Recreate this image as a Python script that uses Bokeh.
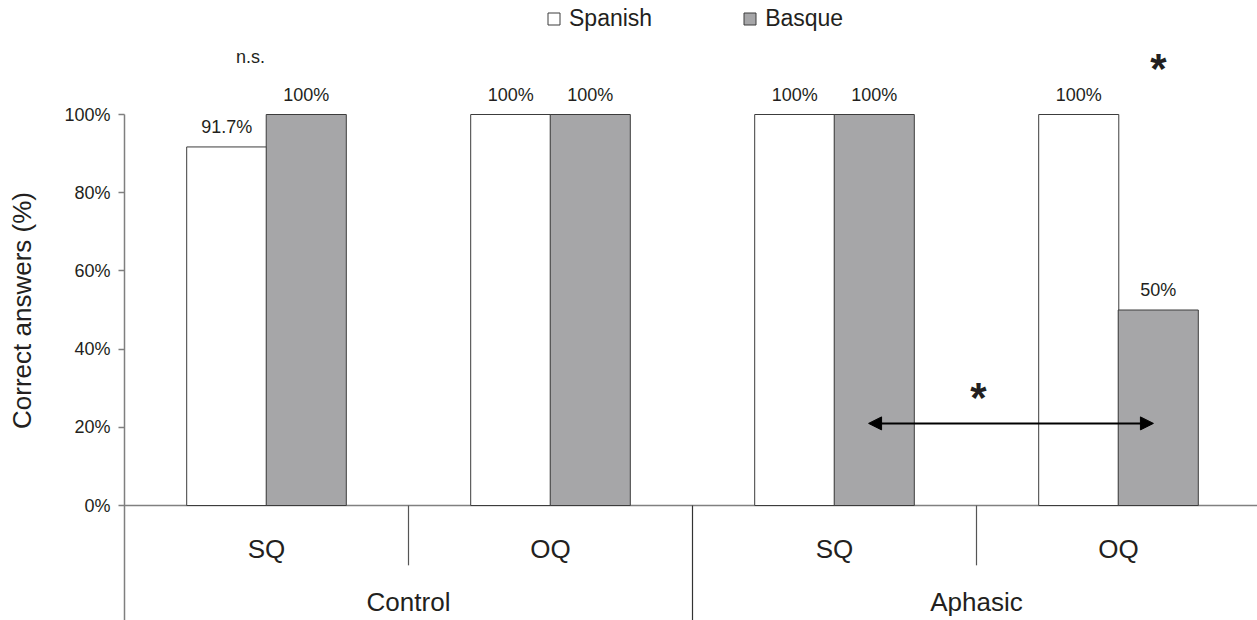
from bokeh.plotting import figure
from bokeh.models import (FixedTicker, PrintfTickFormatter, Legend, LegendItem,
                          Arrow, NormalHead)
from bokeh.core.properties import value
from bokeh.embed import file_html
from bokeh.resources import INLINE

# ---------------- data ----------------
groups = ["Control", "Aphasic"]
questions = ["SQ", "OQ", "SQ", "OQ"]
spanish = [91.7, 100, 100, 100]
basque = [100, 100, 100, 50]
series_names = ["Spanish", "Basque"]
y_ticks = [0, 20, 40, 60, 80, 100]
ns_text = ["n.s."]
star_text = ["*", "*"]

# ---------------- layout ----------------
W, H = 1257, 620
PX = 3.91            # pixels per percent
Y0 = 505             # figure-pixel row of 0 %
LEFT = 124
GW = 284             # pixels per question group
y_top = Y0 / PX
y_bot = -(H - Y0) / PX
x_end = (W - LEFT) / GW

FONT = "Liberation Sans"
TXT = "#231f20"

p = figure(width=W, height=H, x_range=(0, x_end), y_range=(y_bot, y_top),
           output_backend="svg", toolbar_location=None,
           min_border_left=LEFT, min_border_right=0, min_border_top=0,
           min_border_bottom=0, x_axis_location=None)
p.outline_line_color = None
p.xgrid.visible = False
p.ygrid.visible = False

ax = p.yaxis[0]
ax.ticker = FixedTicker(ticks=y_ticks)
ax.formatter = PrintfTickFormatter(format="%d%%")
ax.bounds = (y_bot, 100)
ax.axis_line_color = "#7f7f7f"
ax.axis_line_width = 1.5
ax.major_tick_line_color = "#7f7f7f"
ax.major_tick_line_width = 1.5
ax.major_tick_out = 6
ax.major_tick_in = 0
ax.minor_tick_line_color = None
ax.major_label_text_font = FONT
ax.major_label_text_font_size = "18px"
ax.major_label_text_color = TXT
ax.major_label_standoff = 8
ax.axis_label = "Correct answers (%)"
ax.axis_label_text_font = FONT
ax.axis_label_text_font_size = "26px"
ax.axis_label_text_font_style = "normal"
ax.axis_label_text_color = TXT
ax.axis_label_standoff = 24

n = len(questions)
centers = [i + 0.5 for i in range(n)]
x_sp = [i + 0.36 for i in range(n)]
x_bq = [i + 0.64 for i in range(n)]
bw = 0.282

# baseline at 0 %
p.segment(x0=[0], y0=[0], x1=[x_end], y1=[0], line_color="#808080", line_width=1.5)

# separators below the axis
short_sep = [i for i in range(1, n) if i % 2 == 1]
long_sep = [i for i in range(1, n) if i % 2 == 0]
p.segment(x0=short_sep, y0=[0] * len(short_sep), x1=short_sep,
          y1=[-15.3] * len(short_sep), line_color="#555555", line_width=1.2)
p.segment(x0=long_sep, y0=[0] * len(long_sep), x1=long_sep,
          y1=[y_bot] * len(long_sep), line_color="#333333", line_width=1.2)

r_sp = p.vbar(x=x_sp, top=spanish, bottom=0, width=bw, fill_color="white",
              line_color="#3c3c3c", line_width=1)
r_bq = p.vbar(x=x_bq, top=basque, bottom=0, width=bw, fill_color="#a6a6a8",
              line_color="#3c3c3c", line_width=1)

def fmt(v):
    return ("%g" % v) + "%"

p.text(x=x_sp + x_bq, y=spanish + basque,
       text=[fmt(v) for v in spanish + basque],
       text_align="center", text_baseline="middle", y_offset=-20,
       text_font=value(FONT), text_font_size="18px", text_color=TXT)

# category labels
p.text(x=centers, y=[-11.0] * n, text=questions, text_align="center",
       text_baseline="middle", text_font=value(FONT), text_font_size="26px",
       text_color=TXT)
p.text(x=[1.0, 3.0], y=[-24.6] * len(groups), text=groups, text_align="center",
       text_baseline="middle", text_font=value(FONT), text_font_size="26px",
       text_color=TXT)

# significance marks
p.text(x=[0.444], y=[114.8], text=ns_text, text_align="center",
       text_baseline="middle", text_font=value(FONT), text_font_size="18px",
       text_color=TXT)
p.text(x=[3.641, 3.007], y=[111.8, 27.6], text=star_text, text_align="center",
       text_baseline="alphabetic", text_font=value(FONT), text_font_size="42px",
       text_font_style="bold", text_color=TXT)

arrow_x = [2.62, 3.623]
arrow_y = 21
p.add_layout(Arrow(start=NormalHead(size=13, fill_color="black", line_color="black"),
                   end=NormalHead(size=13, fill_color="black", line_color="black"),
                   x_start=arrow_x[0], y_start=arrow_y, x_end=arrow_x[1], y_end=arrow_y,
                   line_width=2, line_color="black"))

legend = Legend(items=[LegendItem(label=series_names[0], renderers=[r_sp]),
                       LegendItem(label=series_names[1], renderers=[r_bq])],
                orientation="horizontal", location=(422, 588),
                glyph_width=15, glyph_height=15, label_standoff=8, spacing=90,
                padding=0, margin=0, border_line_color=None,
                background_fill_alpha=0, label_text_font=FONT,
                label_text_font_size="23px", label_text_color=TXT)
p.add_layout(legend)

open("out.html", "w").write(file_html(p, INLINE))
